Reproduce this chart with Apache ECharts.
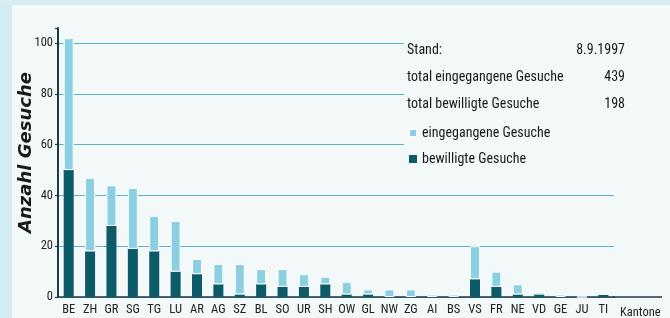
<!DOCTYPE html>
<html>
<head>
<meta charset="utf-8">
<script src="https://cdn.jsdelivr.net/npm/echarts@6/dist/echarts.min.js"></script>
<style>
  html, body { margin: 0; padding: 0; background: #f3f8f9; }
  #chart { width: 670px; height: 318px; }
</style>
</head>
<body>
<div id="chart"></div>
<script>
const kantone = ["BE", "ZH", "GR", "SG", "TG", "LU", "AR", "AG", "SZ", "BL", "SO", "UR", "SH",
  "OW", "GL", "NW", "ZG", "AI", "BS", "VS", "FR", "NE", "VD", "GE", "JU", "TI"];
const eingegangen = [102, 47, 44, 43, 32, 30, 15, 13, 13, 11, 11, 9, 8, 6, 3, 3, 3, 1, 1, 20, 10, 5, 2, 1, 0, 1];
const bewilligt = [50, 18, 28, 19, 18, 10, 9, 5, 1, 5, 4, 4, 5, 1, 1, 0, 0, 0, 0, 7, 4, 1, 1, 0, 0, 1];
const yTicks = [0, 20, 40, 60, 80, 100];
const infoRows = [
  ["Stand:", "8.9.1997"],
  ["total eingegangene Gesuche", "439"],
  ["total bewilligte Gesuche", "198"],
];

const FONT = '"Roboto Condensed", "Liberation Sans Narrow", sans-serif';
const LIGHT = "#8acfe2";
const DARK = "#0d5b69";
const GRID = "#5db3ca";
const AXIS = "#1e3a44";
const BG = "#f3f8f9";

// rest of the light bar = eingegangen minus bewilligt
const offen = eingegangen.map((v, i) => v - bewilligt[i]);

const chart = echarts.init(document.getElementById("chart"));

const infoText = [];
infoRows.forEach((row, i) => {
  const y = 50 + i * 27;
  infoText.push({
    type: "text", left: 407, top: y - 7, z: 30,
    style: { text: row[0], font: "14px " + FONT, fill: "#1a1a1a" },
  });
  infoText.push({
    type: "text", right: 45, top: y - 7, z: 30,
    style: { text: row[1], font: "14px " + FONT, fill: "#1a1a1a", textAlign: "right" },
  });
});

chart.setOption({
  backgroundColor: BG,
  animation: false,
  textStyle: { fontFamily: FONT },
  grid: { left: 58, top: 28, bottom: 21, width: 556, outerBoundsMode: "none" },
  legend: {
    orient: "vertical",
    left: 403,
    top: 121,
    z: 30,
    icon: "rect",
    itemWidth: 8,
    itemHeight: 8,
    itemGap: 12,
    data: ["eingegangene Gesuche", "bewilligte Gesuche"],
    textStyle: { fontFamily: FONT, fontSize: 14, color: "#1a1a1a" },
  },
  xAxis: {
    type: "category",
    data: kantone,
    name: "Kantone",
    nameLocation: "end",
    nameGap: 6,
    nameTextStyle: { fontFamily: FONT, fontSize: 12.5, color: "#222", verticalAlign: "top", padding: [9, 0, 0, 0] },
    axisLine: { lineStyle: { color: AXIS, width: 1.5 } },
    axisTick: { length: 4, lineStyle: { color: AXIS, width: 1.2 } },
    axisLabel: { interval: 0, fontSize: 12.5, color: "#222", margin: 6 },
  },
  yAxis: {
    type: "value",
    min: 0,
    max: 106,
    interval: 20,
    name: "Anzahl Gesuche",
    nameLocation: "middle",
    nameGap: 23,
    nameMoveOverlap: false,
    nameTextStyle: {
      fontFamily: '"DejaVu Sans", sans-serif', fontSize: 18, fontWeight: "bold", fontStyle: "italic",
      color: "#1a1a1a", padding: [0, 0, 0, 20],
    },
    axisLine: { show: true, lineStyle: { color: AXIS, width: 2 } },
    axisTick: { show: true, length: 3, lineStyle: { color: AXIS, width: 1.2 } },
    axisLabel: {
      fontSize: 12.5, color: "#222", margin: 5,
      formatter: (v) => (yTicks.includes(v) ? String(v) : ""),
    },
    splitLine: {
      lineStyle: { color: [GRID, GRID, GRID, GRID, GRID, GRID, "rgba(0,0,0,0)"], width: 1 },
    },
  },
  series: [
    {
      name: "bewilligte Gesuche",
      type: "bar",
      stack: "g",
      barWidth: 10,
      data: bewilligt,
      itemStyle: { color: DARK },
    },
    {
      name: "eingegangene Gesuche",
      type: "bar",
      stack: "g",
      barWidth: 10,
      data: offen,
      itemStyle: { color: LIGHT, borderColor: "#ffffff", borderWidth: 1 },
    },
  ],
  graphic: [
    // light blue frame strips of the print
    { type: "rect", left: 0, top: 0, z: 5, shape: { width: 12, height: 318 }, style: { fill: "#d3ebf1" } },
    { type: "rect", left: 0, top: 0, z: 5, shape: { width: 670, height: 5 }, style: { fill: "#d8edf2" } },
    // info box covers the upper gridlines
    { type: "rect", left: 404, top: 30, z: 10, shape: { width: 230, height: 144 }, style: { fill: BG } },
    // axis line runs on under "Kantone"
    { type: "line", z: 10, shape: { x1: 613, y1: 297, x2: 662, y2: 297 }, style: { stroke: AXIS, lineWidth: 1.5 } },
    ...infoText,
  ],
});
</script>
</body>
</html>
